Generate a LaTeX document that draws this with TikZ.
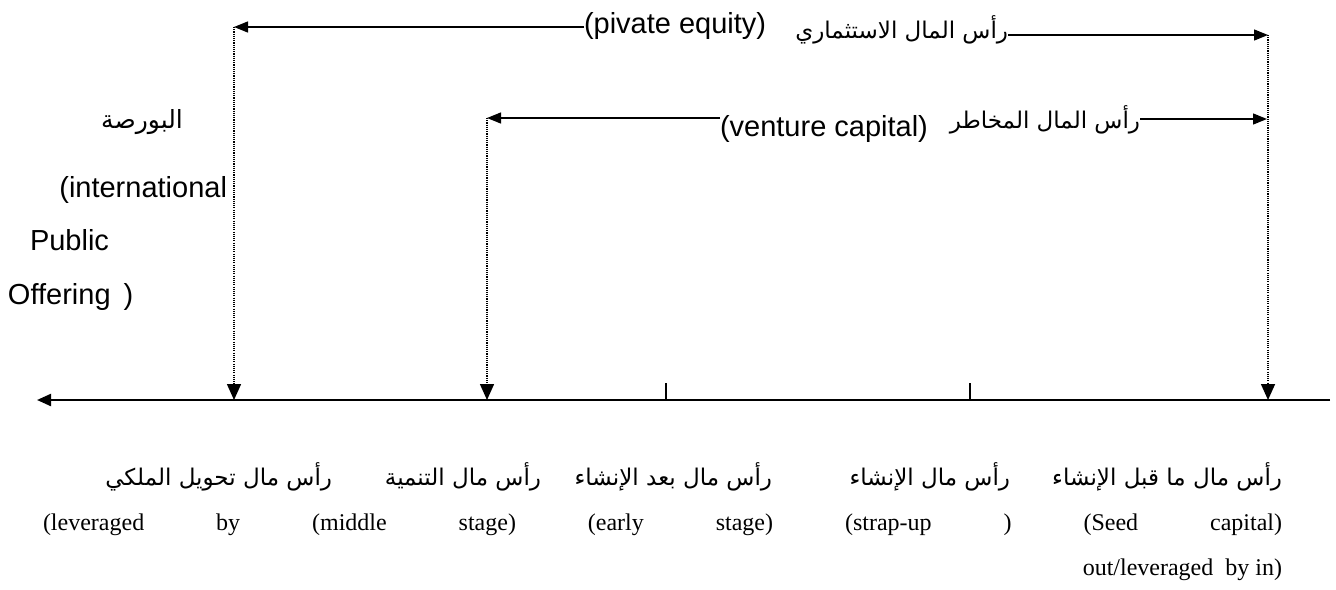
\documentclass[tikz,border=0pt]{standalone}
\usepackage{fontspec}
\setmainfont{Liberation Serif}
\newfontfamily\arialf{Liberation Sans}
\newfontfamily\arabicfont[Script=Arabic]{DejaVu Sans}
\TeXXeTstate=1
\usetikzlibrary{arrows.meta}
\begin{document}
\begin{tikzpicture}[x=0.5pt,y=-0.5pt,
  lbl/.style={inner sep=0pt, outer sep=0pt},
  en/.style={lbl, font=\arialf\fontsize{14.5}{17}\selectfont},
  ar/.style={lbl, font=\arabicfont\fontsize{11.5}{15}\selectfont},
  arl/.style={lbl, font=\arabicfont\fontsize{12.5}{15}\selectfont},
  bt/.style={lbl, font=\fontsize{12}{14}\selectfont},
  bar/.style={lbl, font=\arabicfont\fontsize{11.5}{14}\selectfont},
  span/.style={line width=0.65pt, -{Triangle[length=7pt,width=5.5pt]}},
  drop/.style={line width=0.75pt, dash pattern=on 0.55pt off 0.55pt, -{Triangle[length=8pt,width=7pt]}},
  axisline/.style={line width=1.1pt, -{Triangle[length=7pt,width=6pt]}},
  tickline/.style={line width=0.6pt}]
\useasboundingbox (0,0) rectangle (1336,589);

% top span: private equity
\node[en, anchor=base west] (pe) at (584,33) {(pivate equity)};
\node[ar, anchor=base east] (pear) at (1008,38) {\beginR رأس المال الاستثماري\endR};
\coordinate (pL) at (234,27);
\coordinate (pR) at (1268,35);
\draw[span] (pe.west |- pL) -- (pL);
\draw[span] (pear.east |- pR) -- (pR);

% middle span: venture capital
\node[en, anchor=base west] (vc) at (720,136) {(venture capital)};
\node[ar, anchor=base east] (vcar) at (1140,128) {\beginR رأس المال المخاطر\endR};
\coordinate (vL) at (487,118);
\coordinate (vR) at (1267,119);
\draw[span] (vc.west |- vL) -- (vL);
\draw[span] (vcar.east |- vR) -- (vR);

% left labels
\node[arl, anchor=base] (bors) at (142,128) {\beginR البورصة\endR};
\node[en, anchor=base east] (intl) at (227,197) {(international};
\node[en, anchor=base west] (pub) at (30,250) {Public};
\node[en, anchor=base west] (off) at (8,304) {Offering \,)};

% axis
\coordinate (axR) at (1330,400);
\coordinate (axL) at (37,400);
\draw[axisline] (axR) -- (axL);
\coordinate (d1) at (234,400);
\coordinate (d2) at (487,400);
\coordinate (d3) at (1268,400);
\draw[drop] (pL) -- (d1);
\draw[drop] (vL) -- (d2);
\draw[drop] (pR) -- (d3);
\coordinate (t1a) at (666,383); \coordinate (t1b) at (666,400);
\coordinate (t2a) at (970,383); \coordinate (t2b) at (970,400);
\draw[tickline] (t1a) -- (t1b);
\draw[tickline] (t2a) -- (t2b);

% bottom Arabic stage names
\node[bar, anchor=base east] (g1) at (1282,485) {\beginR رأس مال ما قبل الإنشاء\endR};
\node[bar, anchor=base east] (g2) at (1010,485) {\beginR رأس مال الإنشاء\endR};
\node[bar, anchor=base east] (g3) at (772,485) {\beginR رأس مال بعد الإنشاء\endR};
\node[bar, anchor=base east] (g4) at (541,485) {\beginR رأس مال التنمية\endR};
\node[bar, anchor=base east] (g5) at (332,485) {\beginR رأس مال تحويل الملكي\endR};

% bottom English line (justified)
\node[bt, anchor=base west] (eng) at (43,530) {\hbox to 619.5pt{(leveraged\hfill by\hfill (middle\hfill stage)\hfill (early\hfill stage)\hfill (strap-up\hfill )\hfill (Seed\hfill capital)}};
\node[bt, anchor=base east] (eng2) at (1282,575) {out/leveraged\ \ by in)};
\end{tikzpicture}
\end{document}
